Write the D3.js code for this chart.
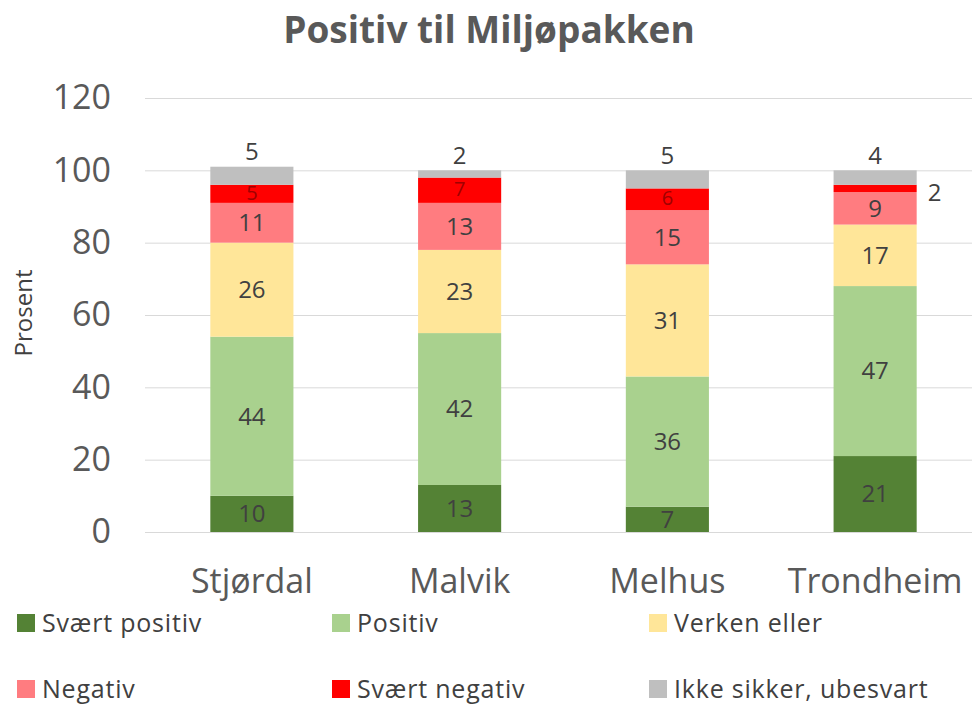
<!DOCTYPE html>
<html>
<head>
<meta charset="utf-8">
<script src="https://cdn.jsdelivr.net/npm/d3@7.9.0/dist/d3.min.js"></script>
<style>
  body { margin: 0; background: #fff; }
  svg { display: block; font-family: "Open Sans", sans-serif; }
</style>
</head>
<body>
<svg id="chart" width="972" height="707"></svg>
<script>
// Data
const kommuner = ["Stjørdal", "Malvik", "Melhus", "Trondheim"];
const kategorier = ["Svært positiv", "Positiv", "Verken eller", "Negativ", "Svært negativ", "Ikke sikker, ubesvart"];
const svaertPositiv = [10, 13, 7, 21];
const positiv = [44, 42, 36, 47];
const verkenEller = [26, 23, 31, 17];
const negativ = [11, 13, 15, 9];
const svaertNegativ = [5, 7, 6, 2];
const ikkeSikker = [5, 2, 5, 4];
const yTicks = [0, 20, 40, 60, 80, 100, 120];
const farger = ["#548235", "#a9d18e", "#ffe699", "#ff7c80", "#ff0000", "#bfbfbf"];

const series = [svaertPositiv, positiv, verkenEller, negativ, svaertNegativ, ikkeSikker];

// table for d3.stack
const rows = kommuner.map((k, i) => {
    const r = { kommune: k };
    kategorier.forEach((c, j) => r[c] = series[j][i]);
    return r;
});

const svg = d3.select("#chart");

const x = d3.scaleBand().domain(kommuner).range([148, 979]).paddingInner(0.6).paddingOuter(0.3);
const y = d3.scaleLinear().domain([0, 120]).range([532, 98]);
const color = d3.scaleOrdinal().domain(kategorier).range(farger);

// title
svg.append("text")
    .attr("x", 489).attr("y", 43)
    .attr("text-anchor", "middle")
    .attr("font-size", 37).attr("font-weight", "bold")
    .attr("fill", "#595959")
    .text("Positiv til Miljøpakken");

// gridlines + y labels
const yAxis = svg.append("g")
    .attr("transform", "translate(145,0)")
    .call(d3.axisLeft(y).tickValues(yTicks).tickSize(-830).tickPadding(34));
yAxis.select(".domain").remove();
yAxis.selectAll(".tick line").attr("stroke", "#d9d9d9");
yAxis.selectAll(".tick text").attr("font-size", 34).attr("fill", "#595959").attr("font-family", "Open Sans, sans-serif");

svg.append("text")
    .attr("transform", "translate(32,313) rotate(-90)")
    .attr("text-anchor", "middle")
    .attr("font-size", 24).attr("fill", "#404040")
    .text("Prosent");

// stacked bars
const stacked = d3.stack().keys(kategorier)(rows);

const layer = svg.selectAll(".layer")
    .data(stacked)
    .enter().append("g")
    .attr("class", "layer")
    .attr("fill", d => color(d.key));

layer.selectAll("rect")
    .data(d => d)
    .enter().append("rect")
    .attr("x", d => x(d.data.kommune))
    .attr("width", x.bandwidth())
    .attr("y", d => y(d[1]))
    .attr("height", d => y(d[0]) - y(d[1]));

// value labels
stacked.forEach((s, si) => {
    s.forEach(d => {
        const v = d[1] - d[0];
        const cx = x(d.data.kommune) + x.bandwidth() / 2;
        let lx = cx, ly = y((d[0] + d[1]) / 2), anchor = "middle", size = 24;
        let fill = "#404040";
        if (si === 4) { fill = "#a00000"; size = 20; ly -= 1; }
        if (si === 5) { ly = y(d[1]) - 15; }
        if (si === 4 && v < 3) { lx = x(d.data.kommune) + x.bandwidth() + 11; anchor = "start"; fill = "#404040"; size = 24; ly += 5; }
        svg.append("text")
            .attr("x", lx).attr("y", ly)
            .attr("dy", "0.35em")
            .attr("text-anchor", anchor)
            .attr("font-size", size)
            .attr("fill", fill)
            .text(v);
    });
});

// x labels
svg.selectAll(".xlab")
    .data(kommuner)
    .enter().append("text")
    .attr("class", "xlab")
    .attr("x", d => x(d) + x.bandwidth() / 2)
    .attr("y", 593)
    .attr("text-anchor", "middle")
    .attr("font-size", 34).attr("fill", "#595959")
    .text(d => d);

// legend
const legendPos = [[17, 632], [332, 632], [649, 632], [17, 698], [332, 698], [649, 698]];
const leg = svg.selectAll(".leg")
    .data(kategorier)
    .enter().append("g")
    .attr("class", "leg")
    .attr("transform", (d, i) => `translate(${legendPos[i][0]},${legendPos[i][1]})`);
leg.append("rect")
    .attr("x", 0).attr("y", -18).attr("width", 18).attr("height", 18)
    .attr("fill", d => color(d));
leg.append("text")
    .attr("x", 25)
    .attr("font-size", 25).attr("letter-spacing", 0.8).attr("fill", "#404040")
    .text(d => d);
</script>
</body>
</html>
